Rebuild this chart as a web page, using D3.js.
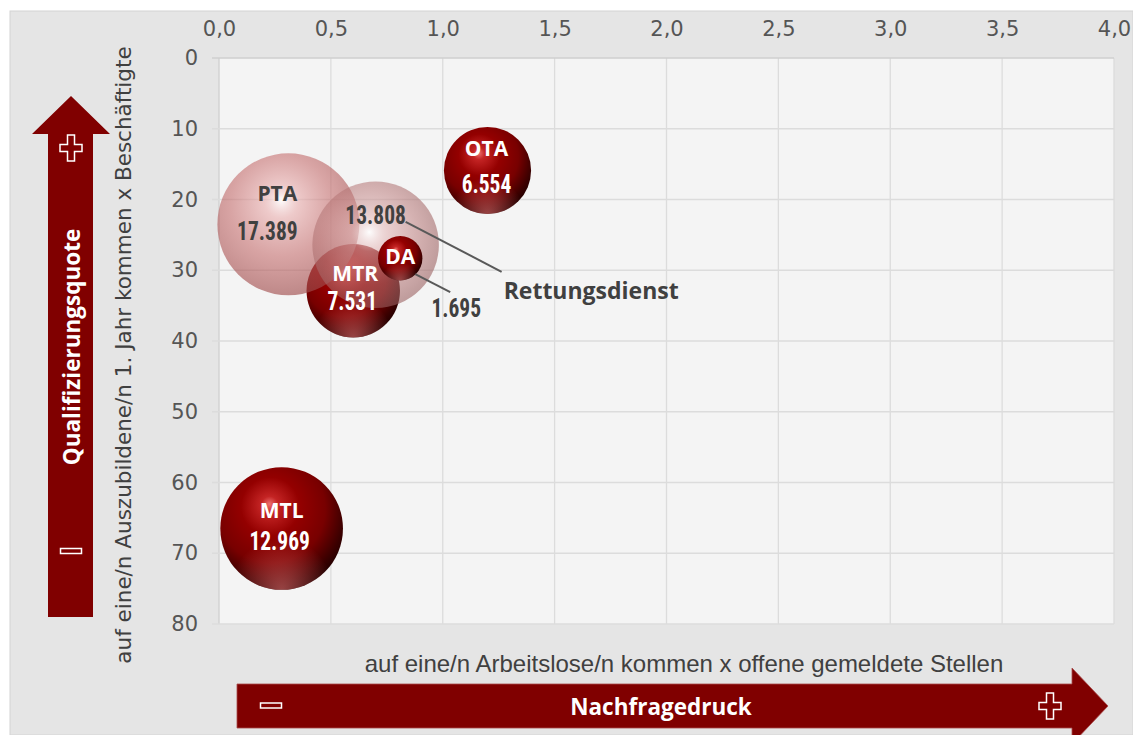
<!DOCTYPE html>
<html>
<head>
<meta charset="utf-8">
<script src="https://cdn.jsdelivr.net/npm/d3@7"></script>
<style>
  body { margin: 0; background: #fff; }
  svg { display: block; }
</style>
</head>
<body>
<div id="chart"></div>
<script>
// Berufe (Blasen), x = Nachfragedruck, y = Qualifizierungsquote, Größe = Beschäftigte
const berufe = ["PTA", "Rettungsdienst", "MTR", "DA", "OTA", "MTL"];
const nachfragedruck = [0.31, 0.70, 0.60, 0.81, 1.20, 0.28];
const qualiQuote = [23.5, 26.4, 32.9, 28.3, 15.9, 66.5];
const beschaeftigte = [17389, 13808, 7531, 1695, 6554, 12969];
const xTicks = [0, 0.5, 1, 1.5, 2, 2.5, 3, 3.5, 4];
const yTicks = [0, 10, 20, 30, 40, 50, 60, 70, 80];

const width = 1133, height = 735;
const plot = { left: 219, right: 1114, top: 58, bottom: 624 };

const svg = d3.select("#chart").append("svg")
  .attr("width", width).attr("height", height);

const defs = svg.append("defs");

// dark sphere
const gDark = defs.append("radialGradient").attr("id", "sphereDark")
  .attr("cx", "42%").attr("cy", "36%").attr("r", "68%")
  .attr("fx", "40%").attr("fy", "30%");
[["0%", "#ee7070"], ["10%", "#c42424"], ["35%", "#940000"], ["65%", "#780000"], ["88%", "#3a0000"], ["100%", "#1e0000"]]
  .forEach(s => gDark.append("stop").attr("offset", s[0]).attr("stop-color", s[1]));

// bottom reflection
const gRefl = defs.append("radialGradient").attr("id", "sphereRefl")
  .attr("cx", "50%").attr("cy", "100%").attr("r", "42%");
gRefl.append("stop").attr("offset", "0%").attr("stop-color", "#e07070").attr("stop-opacity", 0.6);
gRefl.append("stop").attr("offset", "100%").attr("stop-color", "#e07070").attr("stop-opacity", 0);

// translucent spheres
const gLight = defs.append("radialGradient").attr("id", "sphereLight")
  .attr("cx", "45%").attr("cy", "40%").attr("r", "65%")
  .attr("fx", "45%").attr("fy", "33%");
[["0%", "#ffffff", 0.85], ["18%", "#eab0b0", 0.62], ["55%", "#c46a6a", 0.58], ["100%", "#9a4848", 0.66]]
  .forEach(s => gLight.append("stop").attr("offset", s[0]).attr("stop-color", s[1]).attr("stop-opacity", s[2]));

const gLight2 = defs.append("radialGradient").attr("id", "sphereLight2")
  .attr("cx", "45%").attr("cy", "45%").attr("r", "65%")
  .attr("fx", "45%").attr("fy", "40%");
[["0%", "#ffffff", 0.85], ["22%", "#e2b4b4", 0.58], ["60%", "#b87878", 0.55], ["100%", "#8e5656", 0.62]]
  .forEach(s => gLight2.append("stop").attr("offset", s[0]).attr("stop-color", s[1]).attr("stop-opacity", s[2]));

// background
svg.append("rect").attr("x", 10).attr("y", 11).attr("width", width - 10).attr("height", height - 11)
  .attr("fill", "#e5e5e5").attr("stroke", "#d4d4d4");
svg.append("rect").attr("x", plot.left).attr("y", plot.top)
  .attr("width", plot.right - plot.left).attr("height", plot.bottom - plot.top)
  .attr("fill", "#f4f4f4");

const x = d3.scaleLinear().domain([0, 4]).range([plot.left, plot.right]);
const y = d3.scaleLinear().domain([0, 80]).range([plot.top, plot.bottom]);
const r = d3.scaleSqrt().domain([0, 17389]).range([0, 71]);

// grid
svg.append("g").selectAll("line").data(xTicks).join("line")
  .attr("x1", d => x(d)).attr("x2", d => x(d))
  .attr("y1", plot.top).attr("y2", plot.bottom)
  .attr("stroke", d => d === 0 ? "#cfcfcf" : "#dcdcdc").attr("stroke-width", 1.3);
svg.append("g").selectAll("line").data(yTicks).join("line")
  .attr("x1", plot.left - 7).attr("x2", plot.right)
  .attr("y1", d => y(d)).attr("y2", d => y(d))
  .attr("stroke", d => d === 0 ? "#cfcfcf" : "#dcdcdc").attr("stroke-width", 1.3);

// axes
const xAxis = svg.append("g").attr("transform", `translate(0,${plot.top - 26})`)
  .call(d3.axisTop(x).tickValues(xTicks).tickSize(0).tickFormat(d => d3.format(".1f")(d).replace(".", ",")));
const yAxis = svg.append("g").attr("transform", `translate(${plot.left - 21},0)`)
  .call(d3.axisLeft(y).tickValues(yTicks).tickSize(0));
[xAxis, yAxis].forEach(a => {
  a.select(".domain").remove();
  a.selectAll("text").attr("fill", "#555")
    .attr("font-family", "DejaVu Sans, sans-serif").attr("font-size", 21);
});
xAxis.selectAll("text").attr("dy", "0.35em");
yAxis.selectAll("text").attr("x", 0);

// bubbles
const data = berufe.map((b, i) => ({
  name: b, x: nachfragedruck[i], y: qualiQuote[i], size: beschaeftigte[i]
}));
const fmt = d3.formatLocale({ decimal: ",", thousands: ".", grouping: [3], currency: ["", "€"] }).format(",");
const translucent = { PTA: "url(#sphereLight)", Rettungsdienst: "url(#sphereLight2)" };
const drawOrder = ["MTR", "PTA", "Rettungsdienst", "DA", "OTA", "MTL"];

const bubbles = svg.append("g");
drawOrder.forEach(name => {
  const d = data.find(e => e.name === name);
  const g = bubbles.append("g");
  if (translucent[name]) {
    g.append("circle").attr("cx", x(d.x)).attr("cy", y(d.y)).attr("r", r(d.size))
      .attr("fill", translucent[name]);
  } else {
    g.append("circle").attr("cx", x(d.x)).attr("cy", y(d.y)).attr("r", r(d.size))
      .attr("fill", "url(#sphereDark)");
    g.append("circle").attr("cx", x(d.x)).attr("cy", y(d.y)).attr("r", r(d.size))
      .attr("fill", "url(#sphereRefl)");
  }
});

// labels: offsets from bubble centre
const labelStyle = {
  PTA:  { name: [-11, -31], value: [-21, 7], color: "#404040" },
  Rettungsdienst: { name: [128, 45], value: [0, -29], color: "#404040", anchor: "start", leader: [[30, -23], [126, 27]] },
  MTR: { name: [2, -18], value: [-1, 11], color: "#fff" },
  DA:  { name: [0, -2], value: [56, 50], color: "#fff", valueColor: "#404040", leader: [[15, 16], [50, 34]] },
  OTA: { name: [-1, -22], value: [-1, 14], color: "#fff" },
  MTL: { name: [0, -18], value: [-2, 13], color: "#fff" }
};

const labels = svg.append("g");
data.forEach(d => {
  const s = labelStyle[d.name];
  const cx = x(d.x), cy = y(d.y);
  if (s.leader) {
    labels.append("line")
      .attr("x1", cx + s.leader[0][0]).attr("y1", cy + s.leader[0][1])
      .attr("x2", cx + s.leader[1][0]).attr("y2", cy + s.leader[1][1])
      .attr("stroke", "#595959").attr("stroke-width", 2);
  }
  const isRett = d.name === "Rettungsdienst";
  labels.append("text")
    .attr("x", cx + s.name[0]).attr("y", cy + s.name[1])
    .attr("text-anchor", isRett ? "start" : "middle").attr("dominant-baseline", "central")
    .attr("font-family", "Open Sans, sans-serif").attr("font-weight", 700)
    .attr("font-size", isRett ? 23 : 21)
    .attr("fill", s.color)
    .text(d.name);
  labels.append("text")
    .attr("transform", `translate(${cx + s.value[0]},${cy + s.value[1]}) scale(0.86,1)`)
    .attr("text-anchor", "middle").attr("dominant-baseline", "central")
    .attr("font-family", "Liberation Sans Narrow, Roboto Condensed, sans-serif").attr("font-weight", 700)
    .attr("font-size", 25)
    .attr("fill", s.valueColor || s.color)
    .text(fmt(d.size));
});

// axis titles
svg.append("text").attr("x", 684).attr("y", 663)
  .attr("text-anchor", "middle").attr("dominant-baseline", "central")
  .attr("font-family", "Liberation Sans Narrow, sans-serif").attr("font-size", 24)
  .attr("fill", "#404040")
  .text("auf eine/n Arbeitslose/n kommen x offene gemeldete Stellen");
svg.append("text").attr("transform", "translate(123,355) rotate(-90)")
  .attr("text-anchor", "middle").attr("dominant-baseline", "central")
  .attr("font-family", "DejaVu Sans, sans-serif").attr("font-size", 21.5)
  .attr("fill", "#404040")
  .text("auf eine/n Auszubildene/n 1. Jahr kommen x Beschäftigte");

// arrows
const arrowColor = "#800000";
svg.append("path")
  .attr("d", d3.line()([[48, 617], [48, 134], [32, 134], [71, 96], [110, 134], [93, 134], [93, 617]]) + "Z")
  .attr("fill", arrowColor);
svg.append("path")
  .attr("d", d3.line()([[237, 684], [1072, 684], [1072, 668], [1108, 706], [1072, 744], [1072, 728], [237, 728]]) + "Z")
  .attr("fill", arrowColor).attr("stroke", "#a84a4a").attr("stroke-width", 0.8);

svg.append("text").attr("transform", "translate(71,347) rotate(-90)")
  .attr("text-anchor", "middle").attr("dominant-baseline", "central")
  .attr("font-family", "Open Sans, sans-serif").attr("font-weight", 700).attr("font-size", 22.5)
  .attr("fill", "#fff").text("Qualifizierungsquote");
svg.append("text").attr("x", 661).attr("y", 706)
  .attr("text-anchor", "middle").attr("dominant-baseline", "central")
  .attr("font-family", "Open Sans, sans-serif").attr("font-weight", 700).attr("font-size", 22.5)
  .attr("fill", "#fff").text("Nachfragedruck");

// plus / minus signs
const plusPath = (cx, cy) => {
  const a = 3.5, b = 11, c = 13;
  return d3.line()([[cx - a, cy - c], [cx + a, cy - c], [cx + a, cy - a], [cx + b, cy - a], [cx + b, cy + a],
    [cx + a, cy + a], [cx + a, cy + c], [cx - a, cy + c], [cx - a, cy + a], [cx - b, cy + a],
    [cx - b, cy - a], [cx - a, cy - a]]) + "Z";
};
[[71, 148], [1050, 706]].forEach(p => {
  svg.append("path").attr("d", plusPath(p[0], p[1]))
    .attr("fill", arrowColor).attr("stroke", "#fff").attr("stroke-width", 1.5);
});
[[71, 551], [271, 705.5]].forEach(p => {
  svg.append("rect").attr("x", p[0] - 10.5).attr("y", p[1] - 2.5).attr("width", 21).attr("height", 5)
    .attr("fill", arrowColor).attr("stroke", "#fff").attr("stroke-width", 1.5);
});
</script>
</body>
</html>
